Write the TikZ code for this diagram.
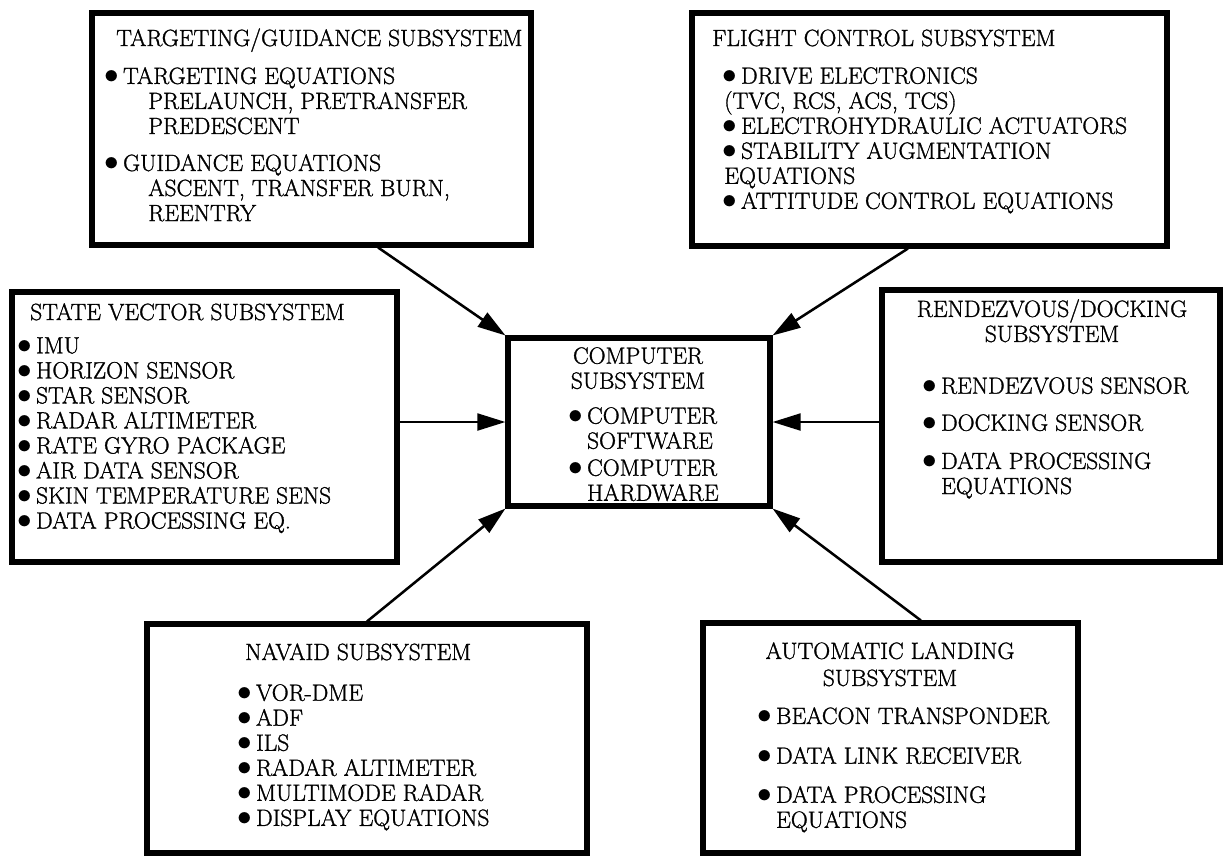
\documentclass[tikz,border=0pt]{standalone}
\usepackage{fontspec}
\setmainfont{Latin Modern Roman}[FakeBold=1.2]
\usepackage{tikz}
\usetikzlibrary{arrows.meta, positioning, calc, fit}

\newcommand{\boxfont}{\fontsize{16.7}{17.8}\selectfont}
\newcommand{\bul}{\makebox[0.42cm][l]{\hspace*{-0.05cm}\scalebox{1.2}{$\bullet$}}}

\begin{document}
\begin{tikzpicture}[
    x=0.025cm, y=-0.025cm,
    sysbox/.style={draw, line width=3.6pt, inner sep=0pt},
    boxtitle/.style={font=\boxfont, inner sep=0pt, align=center},
    boxlist/.style={font=\boxfont, inner sep=0pt, align=left, anchor=north west},
    feed/.style={-{Triangle[length=0.7cm, width=0.42cm]}, line width=1.8pt},
]
\useasboundingbox (0,0) rectangle (1227,856);

% Subsystem boxes
\node[sysbox, fit={(92,13) (531,245)}] (tgt) {};
\node[sysbox, fit={(692,13) (1167,246)}] (flt) {};
\node[sysbox, fit={(12,292) (397,562)}] (sv) {};
\node[sysbox, fit={(508,338) (770,506)}] (cmp) {};
\node[sysbox, fit={(882,290) (1220,562)}] (rdv) {};
\node[sysbox, fit={(147,624) (587,853)}] (nav) {};
\node[sysbox, fit={(703,623) (1078,853)}] (aut) {};

% Targeting / guidance
\node[boxtitle, anchor=base west] (tgt-title) at (116,46) {TARGETING/GUIDANCE SUBSYSTEM};
\node[boxlist] (tgt-list) at (106,67) {\bul TARGETING EQUATIONS\\
    \hspace*{1.05cm}PRELAUNCH, PRETRANSFER\\
    \hspace*{1.05cm}PREDESCENT\\[0.3cm]
    \bul GUIDANCE EQUATIONS\\
    \hspace*{1.05cm}ASCENT, TRANSFER BURN,\\
    \hspace*{1.05cm}REENTRY};

% Flight control
\node[boxtitle, anchor=base west] (flt-title) at (712,46) {FLIGHT CONTROL SUBSYSTEM};
\node[boxlist] (flt-list) at (724,67) {\bul DRIVE ELECTRONICS\\
    (TVC, RCS, ACS, TCS)\\
    \bul ELECTROHYDRAULIC ACTUATORS\\
    \bul STABILITY AUGMENTATION\\
    EQUATIONS\\
    \bul ATTITUDE CONTROL EQUATIONS};

% State vector
\node[boxtitle, anchor=base west] (sv-title) at (30,320) {STATE VECTOR SUBSYSTEM};
\node[boxlist] (sv-list) at (19,337) {\bul IMU\\
    \bul HORIZON SENSOR\\
    \bul STAR SENSOR\\
    \bul RADAR ALTIMETER\\
    \bul RATE GYRO PACKAGE\\
    \bul AIR DATA SENSOR\\
    \bul SKIN TEMPERATURE SENS\\
    \bul DATA PROCESSING EQ.};

% Computer
\node[boxtitle, anchor=north] (cmp-title) at (638,347) {COMPUTER\\SUBSYSTEM};
\node[boxlist] (cmp-list) at (570,407) {\bul COMPUTER\\
    \hspace*{0.42cm}SOFTWARE\\[0.05cm]
    \bul COMPUTER\\
    \hspace*{0.42cm}HARDWARE};

% Rendezvous / docking
\node[boxtitle, anchor=north] (rdv-title) at (1052,299) {RENDEZVOUS/DOCKING\\SUBSYSTEM};
\node[boxlist] (rdv-list) at (924,377) {\bul RENDEZVOUS SENSOR\\[0.3cm]
    \bul DOCKING SENSOR\\[0.33cm]
    \bul DATA PROCESSING\\
    \hspace*{0.42cm}EQUATIONS};

% Navaid
\node[boxtitle, anchor=base west] (nav-title) at (245,660) {NAVAID SUBSYSTEM};
\node[boxlist] (nav-list) at (239,684) {\bul VOR-DME\\
    \bul ADF\\
    \bul ILS\\
    \bul RADAR ALTIMETER\\
    \bul MULTIMODE RADAR\\
    \bul DISPLAY EQUATIONS};

% Automatic landing
\node[boxtitle, anchor=north] (aut-title) at (890,642) {AUTOMATIC LANDING\\[0.05cm]SUBSYSTEM};
\node[boxlist] (aut-list) at (759,707) {\bul BEACON TRANSPONDER\\[0.37cm]
    \bul DATA LINK RECEIVER\\[0.35cm]
    \bul DATA PROCESSING\\
    \hspace*{0.42cm}EQUATIONS};

% Feeds into the computer
\draw[feed] ($(tgt.south west)!0.65!(tgt.south east)$) -- (cmp.north west);
\draw[feed] ($(flt.south west)!0.455!(flt.south east)$) -- (cmp.north east);
\draw[feed] (sv.east |- cmp.west) -- (cmp.west);
\draw[feed] (rdv.west |- cmp.east) -- (cmp.east);
\draw[feed] (nav.north) -- (cmp.south west);
\draw[feed] ($(aut.north west)!0.58!(aut.north east)$) -- (cmp.south east);

\end{tikzpicture}
\end{document}
